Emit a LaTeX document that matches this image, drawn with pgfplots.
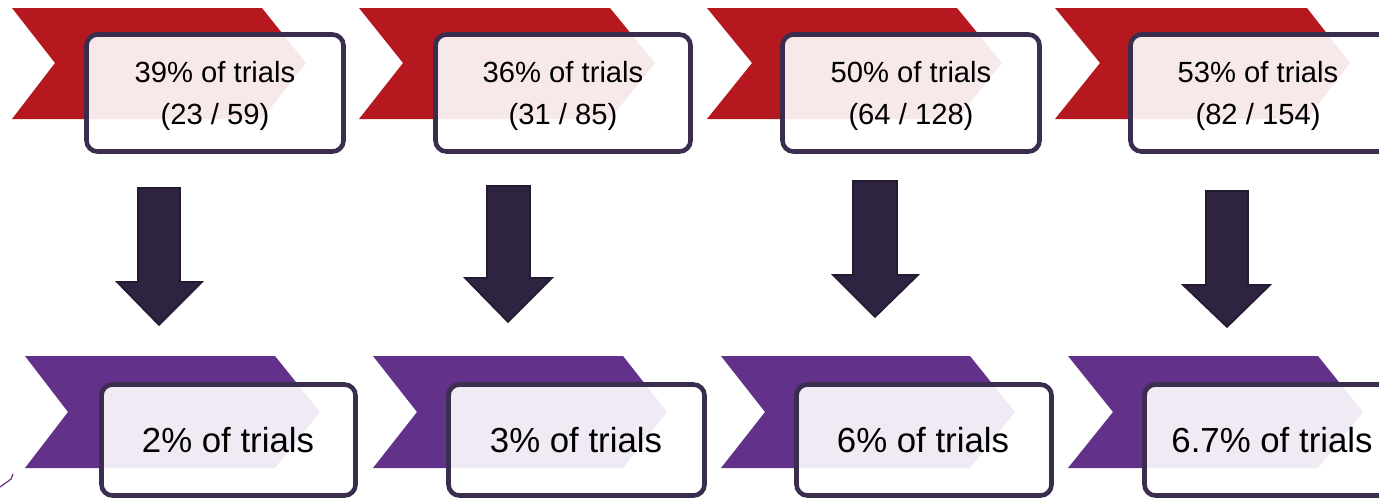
\documentclass[border=0pt]{standalone}
\usepackage{pgfplots}
\pgfplotsset{compat=1.18}
\usepackage{fontspec}
\setmainfont{Liberation Sans}
\definecolor{cred}{HTML}{B5181F}
\definecolor{cpurple}{HTML}{62318A}
\definecolor{cborder}{HTML}{3B2D4D}
\definecolor{carrow}{HTML}{2F2342}
\definecolor{carrowb}{HTML}{241A31}
\begin{document}
\begin{tikzpicture}
\begin{axis}[scale only axis, width=689.5pt, height=250pt,
  xmin=0, xmax=1379, ymin=0, ymax=500, y dir=reverse, hide axis, clip=true]
% top chevrons
\addplot[fill=cred, draw=none] coordinates {(12,8) (262,8) (306,63) (262,119) (12,119) (55,63)} -- cycle;
\addplot[fill=cred, draw=none] coordinates {(359,8) (610,8) (655,63) (610,119) (359,119) (403,63)} -- cycle;
\addplot[fill=cred, draw=none] coordinates {(707,8) (957,8) (1002,63) (957,119) (707,119) (752,63)} -- cycle;
\addplot[fill=cred, draw=none] coordinates {(1055,8) (1307,8) (1350,63) (1307,119) (1055,119) (1100,63)} -- cycle;
% bottom chevrons
\addplot[fill=cpurple, draw=none] coordinates {(25,356) (275,356) (320,412) (275,468) (25,468) (68,412)} -- cycle;
\addplot[fill=cpurple, draw=none] coordinates {(373,356) (623,356) (667,412) (623,468) (373,468) (417,412)} -- cycle;
\addplot[fill=cpurple, draw=none] coordinates {(721,356) (970,356) (1015,412) (970,468) (721,468) (765,412)} -- cycle;
\addplot[fill=cpurple, draw=none] coordinates {(1068,356) (1318,356) (1363,412) (1318,468) (1068,468) (1113,412)} -- cycle;
% top boxes
\addplot[draw=cborder, line width=2.3pt, fill=white, fill opacity=0.9, draw opacity=1, rounded corners=5.5pt]
  coordinates {(215,34.5) (343.5,34.5) (343.5,151.5) (86.5,151.5) (86.5,34.5)} -- cycle;
\addplot[draw=cborder, line width=2.3pt, fill=white, fill opacity=0.9, draw opacity=1, rounded corners=5.5pt]
  coordinates {(563,34.5) (690.5,34.5) (690.5,151.5) (435.5,151.5) (435.5,34.5)} -- cycle;
\addplot[draw=cborder, line width=2.3pt, fill=white, fill opacity=0.9, draw opacity=1, rounded corners=5.5pt]
  coordinates {(911,34.5) (1039.5,34.5) (1039.5,151.5) (782.5,151.5) (782.5,34.5)} -- cycle;
\addplot[draw=cborder, line width=2.3pt, fill=white, fill opacity=0.9, draw opacity=1, rounded corners=5.5pt]
  coordinates {(1258,34.5) (1390,34.5) (1390,151.5) (1130.5,151.5) (1130.5,34.5)} -- cycle;
% bottom boxes
\addplot[draw=cborder, line width=2.3pt, fill=white, fill opacity=0.9, draw opacity=1, rounded corners=5.5pt]
  coordinates {(228,384.5) (355.5,384.5) (355.5,495.5) (101.5,495.5) (101.5,384.5)} -- cycle;
\addplot[draw=cborder, line width=2.3pt, fill=white, fill opacity=0.9, draw opacity=1, rounded corners=5.5pt]
  coordinates {(576,384.5) (704.5,384.5) (704.5,495.5) (448.5,495.5) (448.5,384.5)} -- cycle;
\addplot[draw=cborder, line width=2.3pt, fill=white, fill opacity=0.9, draw opacity=1, rounded corners=5.5pt]
  coordinates {(924,384.5) (1051.5,384.5) (1051.5,495.5) (796.5,495.5) (796.5,384.5)} -- cycle;
\addplot[draw=cborder, line width=2.3pt, fill=white, fill opacity=0.9, draw opacity=1, rounded corners=5.5pt]
  coordinates {(1272,384.5) (1402,384.5) (1402,495.5) (1144.5,495.5) (1144.5,384.5)} -- cycle;
% arrows
\addplot[fill=carrow, draw=carrowb, line width=0.8pt] coordinates {(138,188) (180,188) (180,282) (202,282) (159,325) (117,282) (138,282)} -- cycle;
\addplot[fill=carrow, draw=carrowb, line width=0.8pt] coordinates {(487,186) (530,186) (530,278) (552,278) (508,322) (465,278) (487,278)} -- cycle;
\addplot[fill=carrow, draw=carrowb, line width=0.8pt] coordinates {(853,181) (897,181) (897,275) (918,275) (875,317) (833,275) (853,275)} -- cycle;
\addplot[fill=carrow, draw=carrowb, line width=0.8pt] coordinates {(1206,191) (1248,191) (1248,285) (1270,285) (1227,327) (1183,285) (1206,285)} -- cycle;
% small mark
\addplot[draw=cpurple, line width=0.6pt] coordinates {(0,487) (7,482) (11,479) (13,474)};
% texts
\tikzset{tl/.style={anchor=base, font=\fontsize{14.6}{17}\selectfont, text=black}}
\tikzset{bl/.style={anchor=base, font=\fontsize{17.4}{20}\selectfont, text=black}}
\node[tl] at (axis cs:215,82) {39\% of trials};
\node[tl] at (axis cs:215,124) {(23 / 59)};
\node[tl] at (axis cs:563,82) {36\% of trials};
\node[tl] at (axis cs:563,124) {(31 / 85)};
\node[tl] at (axis cs:911,82) {50\% of trials};
\node[tl] at (axis cs:911,124) {(64 / 128)};
\node[tl] at (axis cs:1258,82) {53\% of trials};
\node[tl] at (axis cs:1258,124) {(82 / 154)};
\node[bl] at (axis cs:228,452) {2\% of trials};
\node[bl] at (axis cs:576,452) {3\% of trials};
\node[bl] at (axis cs:923,452) {6\% of trials};
\node[bl] at (axis cs:1272,452) {6.7\% of trials};
\end{axis}
\pgfresetboundingbox
\path[use as bounding box] (current axis.south west) rectangle (current axis.north east);
\end{tikzpicture}
\end{document}
